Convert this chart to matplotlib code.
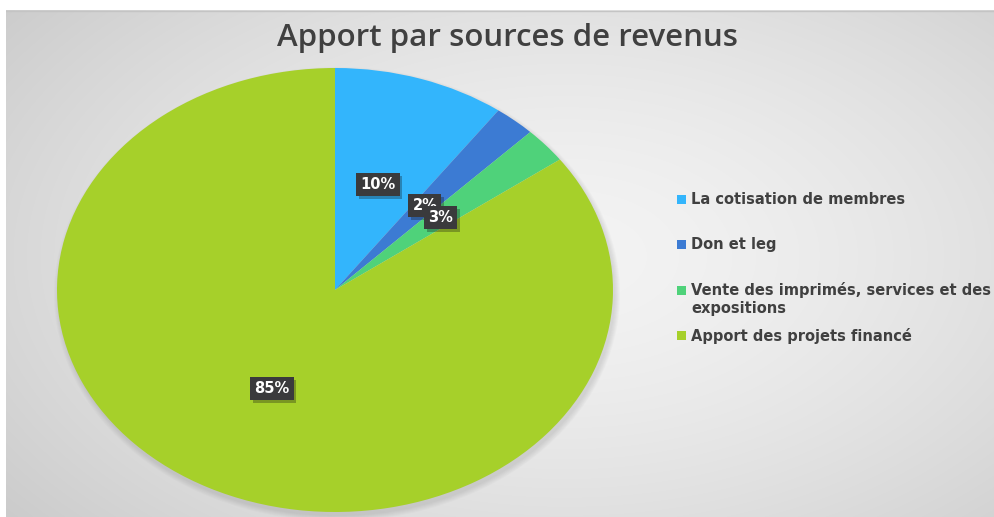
import numpy as np
import matplotlib
matplotlib.use("Agg")
import matplotlib.pyplot as plt
from matplotlib.patches import Rectangle, Ellipse
import matplotlib.patheffects as pe

# ---- data ----
title = "Apport par sources de revenus"
categories = ["La cotisation de membres", "Don et leg",
              "Vente des imprimés, services et des\nexpositions",
              "Apport des projets financé"]
values = [10, 2.4, 2.6, 85]
colors = ["#33B5FC", "#3C7BD3", "#4FD27A", "#A6D02A"]

W, H = 995, 517
fig = plt.figure(figsize=(W / 100, H / 100), dpi=100)
fig.patch.set_facecolor("white")

# ---- background gradient ----
L, T = 6, 10
bg = fig.add_axes([L / W, 0, (W - L) / W, (H - T) / H])
bg.set_xlim(0, W - L)
bg.set_ylim(0, H - T)
yy, xx = np.mgrid[0:H - T, 0:W - L]
cx, cy = 560, 260
d = np.sqrt(((xx - cx) / 560.0) ** 2 + ((yy - cy) / 330.0) ** 2)
lum = 0.955 - 0.11 * np.clip(d, 0, 1.3) ** 1.5
img = np.dstack([lum, lum, lum])
bg.imshow(img, origin="lower", extent=(0, W - L, 0, H - T), aspect="auto",
          interpolation="bilinear")
bg.axis("off")
bg.plot([0, W - L], [H - T - 1, H - T - 1], color="#c4c4c4", lw=1)

# soft shadow beneath pie
pcx, pcy = 335 - L, (H - 290)
for i in range(6):
    e = Ellipse((pcx + 2, pcy - 4), 2 * 278 + 2 * i, 2 * 222 + 2 * i,
                facecolor="#707070", edgecolor="none", alpha=0.035)
    bg.add_patch(e)

# ---- pie ----
rx, ry = 278, 222
ax = fig.add_axes([(335 - rx) / W, (H - 290 - ry) / H, 2 * rx / W, 2 * ry / H])
wedges, texts, autotexts = ax.pie(
    values, colors=colors, startangle=90, counterclock=False,
    autopct="%.0f%%", pctdistance=0.5,
    wedgeprops=dict(linewidth=0),
    textprops=dict(color="white", fontsize=10.5, fontweight="bold",
                   family="DejaVu Sans"))
ax.set_aspect("auto")
ax.set_xlim(-1, 1)
ax.set_ylim(-1, 1)
for t in autotexts:
    t.set_bbox(dict(boxstyle="square,pad=0.28", facecolor="#3A3A3C",
                    edgecolor="none"))
    t.get_bbox_patch().set_path_effects(
        [pe.SimplePatchShadow(offset=(2, -2), alpha=0.3), pe.Normal()])

# ---- title ----
fig.text(508 / W, 1 - 38 / H, title, ha="center", va="center",
         fontsize=22.5, fontweight="semibold", color="#404040",
         family="Open Sans")

# ---- legend (manual) ----
leg_y = [200, 245, 299, 336]
for lab, col, y in zip(categories, colors, leg_y):
    nlines = lab.count("\n") + 1
    first_y = y - (nlines - 1) * 8
    fig.patches.append(Rectangle((677 / W, 1 - (first_y + 4) / H), 9 / W, 9 / H,
                                 transform=fig.transFigure, facecolor=col,
                                 edgecolor="none"))
    fig.text(691 / W, 1 - y / H, lab, ha="left", va="center", fontsize=10.5,
             fontweight="bold", color="#404040", family="DejaVu Sans",
             linespacing=1.3)

fig.savefig("out.png", dpi=100)
